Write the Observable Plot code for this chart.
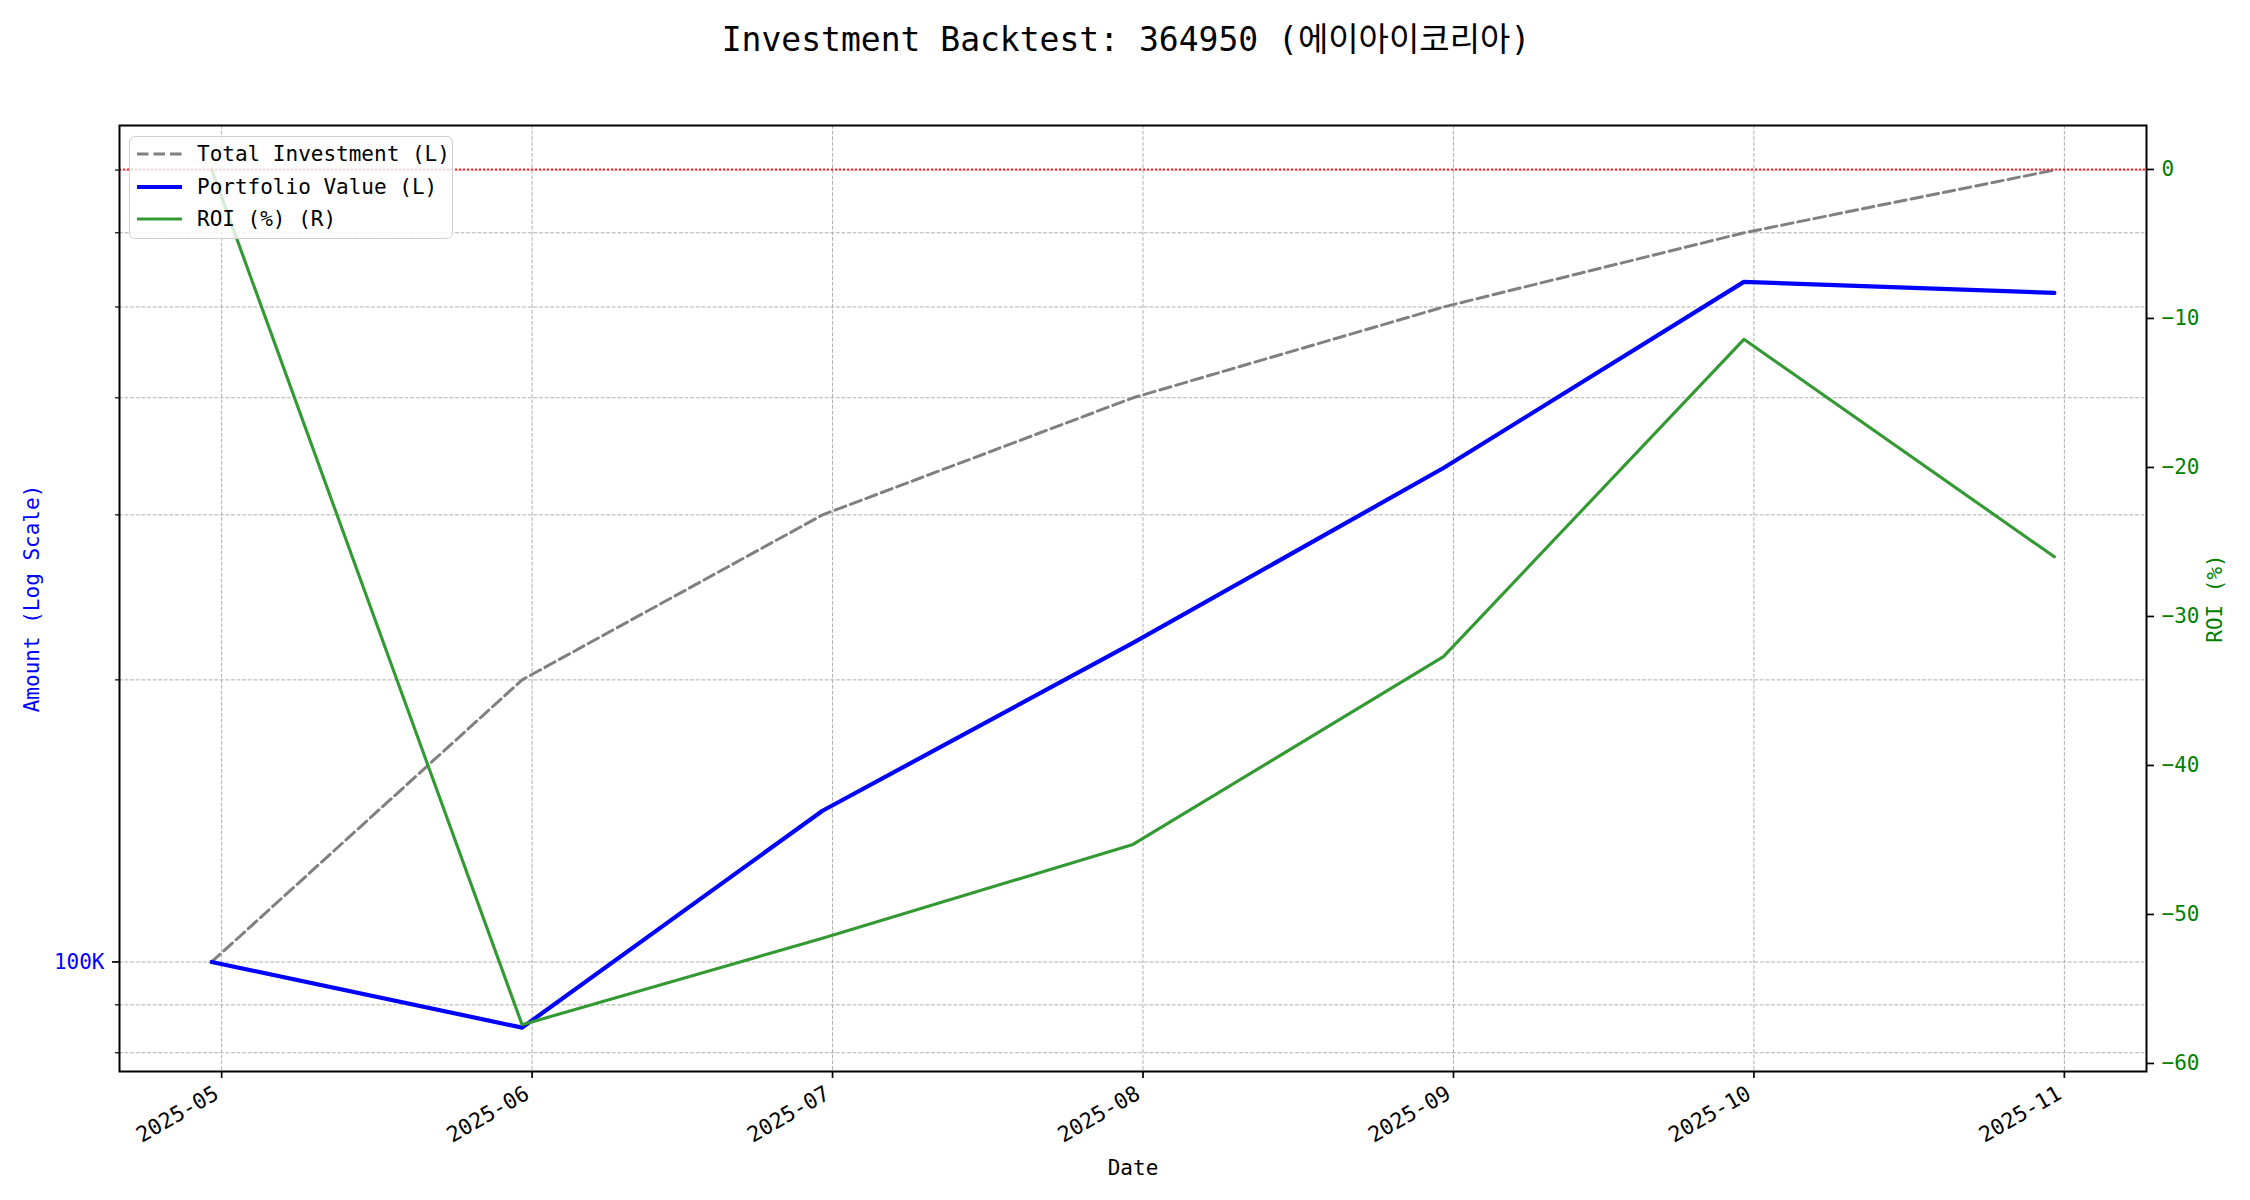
<!DOCTYPE html>
<html>
<head>
<meta charset="utf-8">
<script src="https://cdn.jsdelivr.net/npm/d3@7"></script>
<script src="https://cdn.jsdelivr.net/npm/@observablehq/plot@0.6"></script>
<style>
  body { margin: 0; background: #fff; }
  #wrap { position: relative; width: 2250px; height: 1200px; }
  #legend { position: absolute; left: 129px; top: 136px; width: 322px; height: 101px;
    border: 1.5px solid #d0d0d0; border-radius: 6px; background: rgba(255,255,255,0.8); }
  #legend svg { position: absolute; left: 0; top: 0; }
</style>
</head>
<body>
<div id="wrap"></div>
<script>
// ---- data ----
const dates = ["2025-04-30", "2025-05-31", "2025-06-30", "2025-07-31", "2025-08-31", "2025-09-30", "2025-10-31"];
const totalInvestment = [100000, 200000, 300000, 400000, 500000, 600000, 700000];
const portfolioValue = [100000, 85100, 145000, 219000, 336600, 531800, 517600];
const roiPct = [0, -57.4, -51.6, -45.3, -32.7, -11.4, -26.0];
const xTickLabels = ["2025-05", "2025-06", "2025-07", "2025-08", "2025-09", "2025-10", "2025-11"];
const roiTicks = [0, -10, -20, -30, -40, -50, -60];
const amountMajorTicks = [100000];
const amountMajorLabels = ["100K"];
const amountMinorTicks = [80000, 90000, 200000, 300000, 400000, 500000, 600000, 700000];
const seriesNames = ["Total Investment (L)", "Portfolio Value (L)", "ROI (%) (R)"];
const titleText = "Investment Backtest: 364950 (에이아이코리아)";

// ---- build ----
const FONT = "'DejaVu Sans Mono', 'Noto Sans CJK KR', monospace";
const parse = d3.utcParse("%Y-%m-%d");
const parseMonth = d3.utcParse("%Y-%m");
const rows = dates.map((d, i) => ({date: parse(d), total: totalInvestment[i], value: portfolioValue[i], roi: roiPct[i]}));
const tickDates = xTickLabels.map(s => parseMonth(s));

const L = [Math.log10(76400), Math.log10(781000)];
const R = [-60.54, 2.95];
const toAmt = r => Math.pow(10, L[0] + (r - R[0]) / (R[1] - R[0]) * (L[1] - L[0]));
const fmtRoi = d => d === 0 ? "0" : "\u2212" + Math.abs(d);

const gridStyle = {stroke: "#b0b0b0", strokeWidth: 1, strokeDasharray: "3.9,1.7"};

const chart = Plot.plot({
  width: 2250,
  height: 1200,
  marginTop: 125,
  marginBottom: 129,
  marginLeft: 119,
  marginRight: 104,
  style: {fontFamily: FONT, fontSize: "21px", background: "#fff"},
  x: {type: "utc", domain: [new Date(Date.UTC(2025, 3, 20, 19, 12)), new Date(Date.UTC(2025, 10, 9, 4, 48))]},
  y: {type: "log", domain: [Math.pow(10, L[0]), Math.pow(10, L[1])]},
  marks: [
    Plot.ruleY([...amountMinorTicks, ...amountMajorTicks], gridStyle),
    Plot.ruleX(tickDates, gridStyle),
    Plot.line(rows, {x: "date", y: "total", stroke: "#808080", strokeWidth: 3, strokeDasharray: "11.5,5"}),
    Plot.line(rows, {x: "date", y: "value", stroke: "blue", strokeWidth: 4.2}),
    Plot.line(rows, {x: "date", y: d => toAmt(d.roi), stroke: "#339933", strokeWidth: 3.1}),
    Plot.ruleY([0], {y: d => toAmt(d), stroke: "red", strokeOpacity: 0.85, strokeWidth: 2, strokeDasharray: "2,2"}),
    Plot.frame({stroke: "black", strokeWidth: 2}),
    // x axis
    Plot.axisX({ticks: tickDates, tickSize: 7, tickFormat: () => "", label: null, strokeWidth: 1.7}),
    Plot.text(tickDates, {x: d => d, text: (d, i) => xTickLabels[i], frameAnchor: "bottom",
      rotate: -30, textAnchor: "end", lineAnchor: "top", dx: -9, dy: 13, fontSize: 21.5, fill: "black"}),
    // left axis
    Plot.axisY({ticks: amountMajorTicks, tickSize: 7, tickFormat: () => "", label: null, strokeWidth: 1.7}),
    Plot.axisY({ticks: amountMinorTicks, tickSize: 4, tickFormat: () => "", label: null, strokeWidth: 1.2}),
    Plot.text(amountMajorTicks, {y: d => d, text: (d, i) => amountMajorLabels[i], frameAnchor: "left",
      dx: -15, textAnchor: "end", fontSize: 21, fill: "blue"}),
    // right axis
    Plot.axisY({anchor: "right", ticks: roiTicks.map(toAmt), tickSize: 7, tickFormat: () => "", label: null, strokeWidth: 1.7}),
    Plot.text(roiTicks, {y: d => toAmt(d), text: d => fmtRoi(d), frameAnchor: "right",
      dx: 15, textAnchor: "start", fontSize: 21, fill: "green"}),
    // axis titles
    Plot.text(["Amount (Log Scale)"], {frameAnchor: "left", dx: -87, rotate: -90, textAnchor: "middle", fontSize: 21, fill: "blue"}),
    Plot.text(["ROI (%)"], {frameAnchor: "right", dx: 69, rotate: -90, textAnchor: "middle", fontSize: 21, fill: "green"}),
    Plot.text(["Date"], {frameAnchor: "bottom", dy: 103, fontSize: 21, fill: "black"}),
    // title
    Plot.text([titleText], {frameAnchor: "top", dx: -7, dy: -98, fontSize: 33, fill: "black"})
  ]
});

const wrap = document.getElementById("wrap");
wrap.appendChild(chart);

// legend overlay
const legend = document.createElement("div");
legend.id = "legend";
const styles = [
  {stroke: "#808080", width: 3, dash: "11.5,5"},
  {stroke: "blue", width: 4.2, dash: null},
  {stroke: "#339933", width: 3.1, dash: null}
];
const ys = [17, 50, 82];
let svg = `<svg width="322" height="101" xmlns="http://www.w3.org/2000/svg" style="font-family:${FONT.replace(/'/g, '&quot;')};font-size:21px">`;
seriesNames.forEach((name, i) => {
  const s = styles[i];
  svg += `<line x1="7" x2="52" y1="${ys[i]}" y2="${ys[i]}" stroke="${s.stroke}" stroke-width="${s.width}" ${s.dash ? `stroke-dasharray="${s.dash}"` : ""}/>`;
  svg += `<text x="67" y="${ys[i]}" dy="0.35em" fill="black">${name}</text>`;
});
svg += `</svg>`;
legend.innerHTML = svg;
wrap.appendChild(legend);
</script>
</body>
</html>
